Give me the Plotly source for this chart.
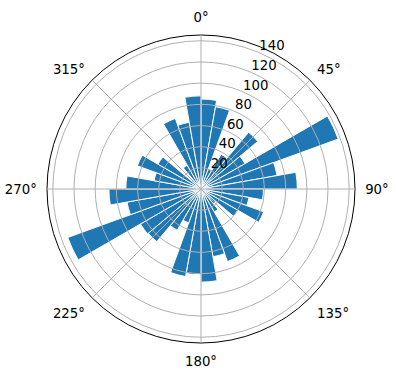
import plotly.graph_objects as go

# Data
directions = [5, 15, 25, 35, 45, 55, 65, 75, 85,
              95, 105, 115, 125, 135, 145, 155, 165, 175,
              185, 195, 205, 215, 225, 235, 245, 255, 265,
              275, 285, 295, 305, 315, 325, 335, 345, 355]
counts = [85, 79, 20, 38, 70, 48, 138, 73, 91,
          59, 46, 63, 40, 18, 25, 73, 65, 88,
          81, 84, 34, 45, 65, 66, 134, 71, 87,
          71, 45, 64, 47, 12, 26, 71, 64, 88]
bar_width = 10
radial_ticks = [20, 40, 60, 80, 100, 120, 140]
angular_ticks = [0, 45, 90, 135, 180, 225, 270, 315]
angular_labels = ["0°", "45°", "90°", "135°", "180°", "225°", "270°", "315°"]
r_max = 145.5

FONT = dict(family="DejaVu Sans", size=13.3, color="black")
GRID = "#b0b0b0"
W, H = 396, 380
dom_x = [47 / W, 355 / W]
dom_y = [1 - 343 / H, 1 - 35 / H]
# label layer nudged to match matplotlib's radial label placement
lab_dx, lab_dy = -5 / W, 11 / H
dom_x3 = [dom_x[0] + lab_dx, dom_x[1] + lab_dx]
dom_y3 = [dom_y[0] + lab_dy, dom_y[1] + lab_dy]

fig = go.Figure()
fig.add_trace(go.Barpolar(
    r=counts, theta=directions, width=bar_width,
    marker=dict(color="#1f77b4", line=dict(color="white", width=1)),
    subplot="polar", showlegend=False,
))
fig.add_trace(go.Scatterpolar(r=[], theta=[], subplot="polar2", showlegend=False))
fig.add_trace(go.Scatterpolar(r=[], theta=[], subplot="polar3", showlegend=False))

fig.update_layout(
    width=W, height=H,
    margin=dict(l=0, r=0, t=0, b=0),
    paper_bgcolor="white",
    font=FONT,
    polar=dict(
        domain=dict(x=dom_x, y=dom_y),
        bgcolor="white",
        angularaxis=dict(
            rotation=90, direction="clockwise",
            tickmode="array", tickvals=angular_ticks, ticktext=angular_labels,
            showgrid=False, showline=True, linecolor="black", linewidth=1,
            ticks="outside", ticklen=7, tickcolor="rgba(0,0,0,0)", tickfont=FONT,
        ),
        radialaxis=dict(range=[0, r_max], showgrid=False, showline=False,
                        showticklabels=False, ticks=""),
    ),
    polar2=dict(
        domain=dict(x=dom_x, y=dom_y),
        bgcolor="rgba(0,0,0,0)",
        angularaxis=dict(
            rotation=90, direction="clockwise",
            tickmode="array", tickvals=angular_ticks,
            showgrid=True, gridcolor=GRID, gridwidth=0.8,
            showline=False, showticklabels=False, ticks="",
        ),
        radialaxis=dict(
            range=[0, r_max], angle=67.5,
            tickmode="array", tickvals=radial_ticks,
            showgrid=True, gridcolor=GRID, gridwidth=0.8,
            showline=False, showticklabels=False, ticks="",
        ),
    ),
    polar3=dict(
        domain=dict(x=dom_x3, y=dom_y3),
        bgcolor="rgba(0,0,0,0)",
        angularaxis=dict(
            rotation=90, direction="clockwise",
            showgrid=False, showline=False, showticklabels=False, ticks="",
        ),
        radialaxis=dict(
            range=[0, r_max], angle=67.5, side="clockwise", tickangle=67.5,
            tickmode="array", tickvals=radial_ticks,
            showgrid=False, showline=False, ticks="", tickfont=FONT,
        ),
    ),
)

fig.write_html("out.html")
